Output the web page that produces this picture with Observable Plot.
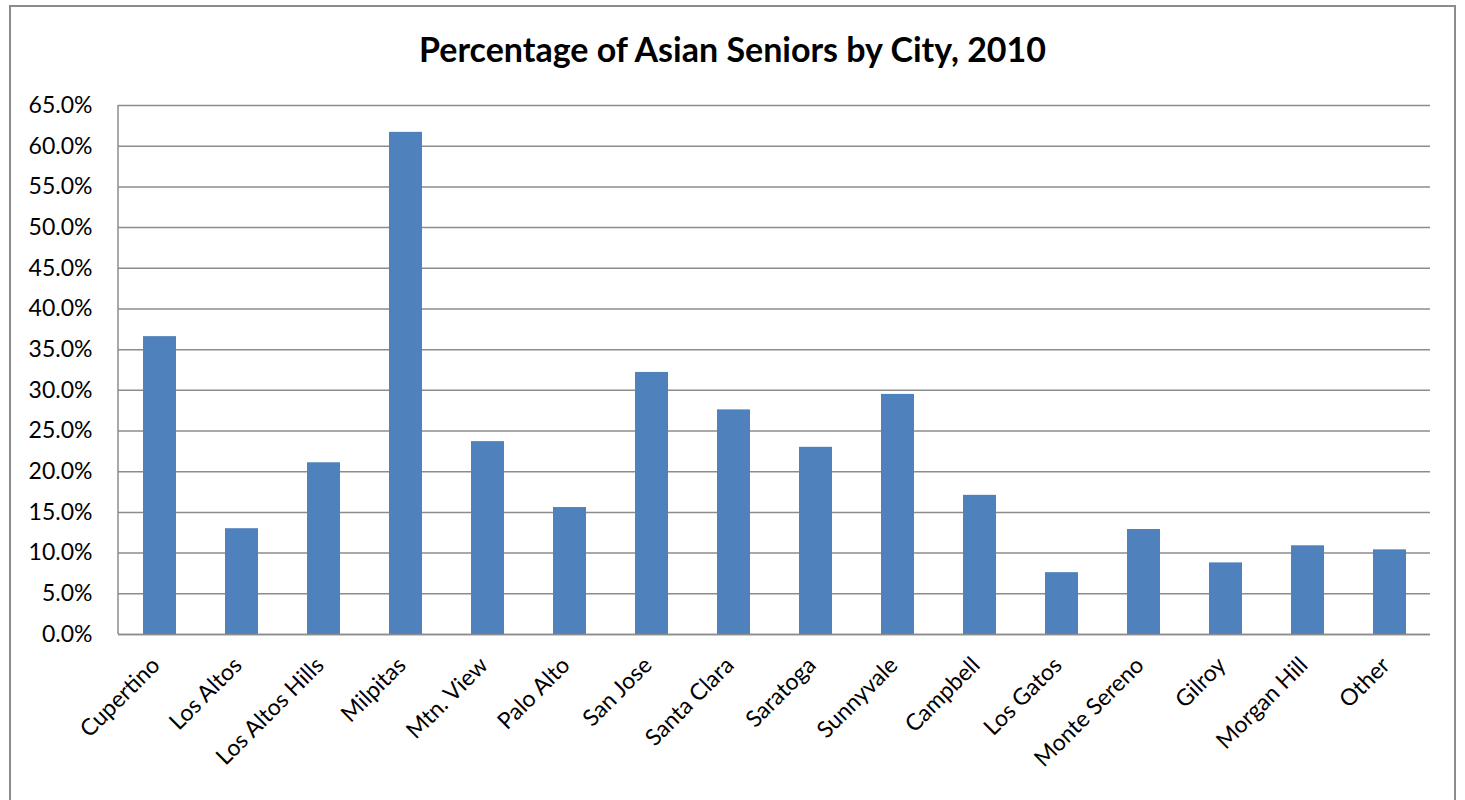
<!DOCTYPE html>
<html>
<head>
<meta charset="utf-8">
<script src="https://cdn.jsdelivr.net/npm/d3@7"></script>
<script src="https://cdn.jsdelivr.net/npm/@observablehq/plot@0.6"></script>
<style>
  html, body { margin: 0; padding: 0; background: #fff; overflow: hidden; }
  #wrap { position: relative; width: 1465px; height: 800px; }
  #frame { position: absolute; left: 9px; top: 5px; width: 1447px; height: 820px; border: 2px solid #8c8c8c; box-sizing: border-box; }
  #title { position: absolute; left: 0; width: 1465px; top: 28px; text-align: center; font-family: Lato, "Open Sans", sans-serif; font-weight: bold; font-size: 34px; color: #000; }
  #chart { position: absolute; left: 0; top: 80px; }
</style>
</head>
<body>
<div id="wrap">
  <div id="frame"></div>
  <div id="title">Percentage of Asian Seniors by City, 2010</div>
  <div id="chart"></div>
</div>
<script>
const cities = ["Cupertino","Los Altos","Los Altos Hills","Milpitas","Mtn. View","Palo Alto","San Jose","Santa Clara","Saratoga","Sunnyvale","Campbell","Los Gatos","Monte Sereno","Gilroy","Morgan Hill","Other"];
const percents = [36.6, 13.0, 21.1, 61.7, 23.7, 15.6, 32.2, 27.6, 23.0, 29.5, 17.1, 7.6, 12.9, 8.8, 10.9, 10.4];
const yTicks = [0,5,10,15,20,25,30,35,40,45,50,55,60,65];

const data = cities.map((c, i) => ({city: c, value: percents[i] / 100}));
const fmt = d => (d * 100).toFixed(1) + "%";

const plot = Plot.plot({
  width: 1465,
  height: 720,
  marginTop: 25,
  marginBottom: 166,
  marginLeft: 118,
  marginRight: 35,
  style: { fontFamily: "Lato, 'Open Sans', sans-serif", fontSize: "23px", color: "#000", background: "transparent" },
  x: { domain: cities, paddingInner: 0.6, paddingOuter: 0.3, label: null },
  y: { domain: [0, 0.65], label: null },
  marks: [
    Plot.gridY(yTicks.map(t => t / 100), { stroke: "#8c8c8c", strokeOpacity: 1, strokeWidth: 1.5 }),
    Plot.barY(data, { x: "city", y: "value", fill: "#4f81bd" }),
    Plot.ruleY([0], { stroke: "#8c8c8c", strokeWidth: 1.5 }),
    Plot.axisY({ ticks: yTicks.map(t => t / 100), tickFormat: fmt, tickSize: 0, tickPadding: 26, fontSize: 23, label: null }),
    Plot.axisX({ tickSize: 0, tickPadding: 27, dx: -4, tickRotate: -45, fontSize: 23, label: null })
  ]
});
document.getElementById("chart").appendChild(plot);

// left axis line along the plot's left edge
d3.select(plot).append("line")
  .attr("x1", 118).attr("x2", 118)
  .attr("y1", 25).attr("y2", 720 - 166)
  .attr("stroke", "#8c8c8c").attr("stroke-width", 1.5);
</script>
</body>
</html>
